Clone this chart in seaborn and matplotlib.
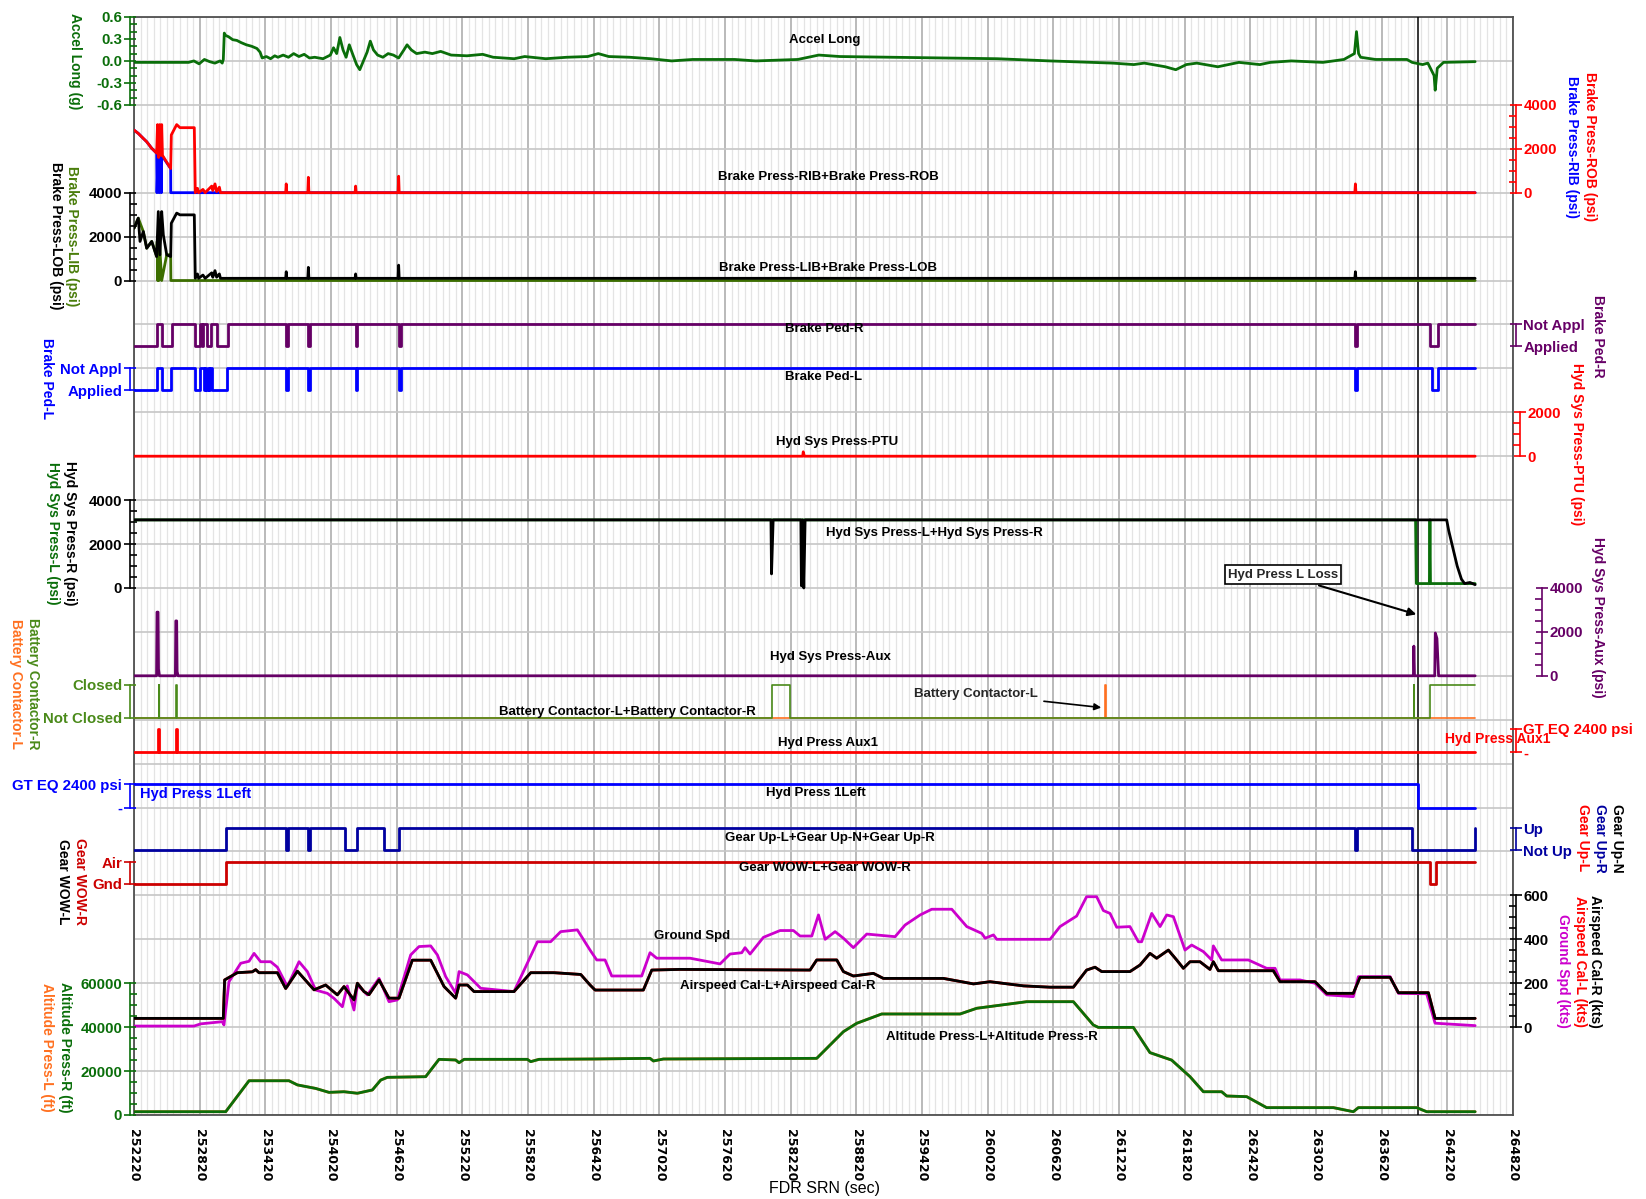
import numpy as np
import pandas as pd
import matplotlib.pyplot as plt
import seaborn as sns

sns.set_style("white")
plt.rcParams['font.family'] = ['Liberation Sans', 'DejaVu Sans']

# ---------------- data ----------------
accel_t = [252220, 252719, 252767, 252815, 252863, 252911, 252959, 253007, 253026, 253036, 253045, 253055,
           253084, 253122, 253160, 253199, 253247, 253295, 253343, 253372, 253391, 253429, 253468, 253506,
           253535, 253583, 253631, 253679, 253727, 253775, 253823, 253871, 253947, 254014, 254043, 254072,
           254101, 254130, 254158, 254187, 254216, 254254, 254283, 254322, 254350, 254379, 254408, 254446,
           254494, 254542, 254590, 254638, 254686, 254715, 254754, 254802, 254878, 254946, 255022, 255118,
           255262, 255406, 255502, 255694, 255790, 255982, 256174, 256366, 256462, 256558, 256749, 256941,
           257133, 257325, 257709, 257901, 258093, 258285, 258381, 258477, 258669, 259149, 259628, 260108,
           260588, 260972, 261163, 261355, 261451, 261643, 261739, 261835, 261931, 262123, 262315, 262507,
           262603, 262795, 263083, 263275, 263371, 263390, 263409, 263428, 263563, 263851, 263898, 263994,
           264042, 264099, 264109, 264128, 264185, 264474]
accel_g = [-0.02, -0.02, 0.0, -0.04, 0.02, -0.01, -0.03, 0.0, -0.03, 0.02, 0.38, 0.35,
           0.33, 0.29, 0.28, 0.25, 0.22, 0.2, 0.17, 0.12, 0.04, 0.06, 0.03, 0.07,
           0.05, 0.08, 0.05, 0.1, 0.06, 0.09, 0.04, 0.05, 0.03, 0.08, 0.18, 0.1,
           0.32, 0.15, 0.05, 0.22, 0.1, -0.05, -0.12, 0.02, 0.12, 0.27, 0.15, 0.08,
           0.05, 0.1, 0.08, 0.04, 0.15, 0.22, 0.15, 0.1, 0.12, 0.1, 0.13, 0.08,
           0.07, 0.09, 0.05, 0.03, 0.06, 0.03, 0.05, 0.06, 0.1, 0.06, 0.05, 0.03,
           0.0, 0.02, 0.02, 0.0, 0.01, 0.02, 0.05, 0.08, 0.06, 0.05, 0.04, 0.03,
           0.0, -0.02, -0.03, -0.05, -0.03, -0.08, -0.12, -0.05, -0.03, -0.08, -0.02, -0.05,
           -0.02, 0.0, -0.02, 0.02, 0.1, 0.4, 0.1, 0.05, 0.02, 0.02, -0.02, -0.05,
           -0.03, -0.2, -0.4, -0.1, -0.02, -0.01]

rob_t = [252220, 252259, 252305, 252336, 252382, 252427, 252435, 252445, 252455, 252465, 252473, 252480,
         252555, 252561, 252610, 252640, 252771, 252780, 252800, 252810, 252850, 252870, 252930, 252940,
         252960, 252975, 253000, 253010, 253606, 253611, 253616, 253808, 253813, 253818, 254240, 254245,
         254250, 254633, 254638, 254643, 263375, 263380, 263385, 264474]
rob_psi = [2850, 2700, 2470, 2320, 2020, 1800, 3100, 1600, 3100, 1700, 3100, 1700,
           1100, 2630, 3100, 2960, 2960, 0, 200, 0, 150, 0, 300, 100,
           400, 50, 250, 0, 0, 400, 0, 0, 700, 0, 0, 300,
           0, 0, 750, 0, 0, 400, 0, 0]
rib_t = [252220, 252259, 252305, 252336, 252382, 252427, 252430, 252440, 252450, 252460, 252470, 252473,
         252555, 252556, 264474]
rib_psi = [2850, 2700, 2470, 2320, 2020, 1800, 0, 1800, 0, 1700, 0, 1700,
           1100, 0, 0]

lob_t = [252220, 252259, 252275, 252305, 252336, 252382, 252427, 252442, 252457, 252473, 252488, 252519,
         252555, 252561, 252610, 252640, 252771, 252780, 252800, 252810, 252850, 252870, 252930, 252940,
         252960, 252975, 253000, 253010, 253606, 253611, 253616, 253808, 253813, 253818, 254240, 254245,
         254250, 254633, 254638, 254643, 263375, 263380, 263385, 264474]
lob_psi = [2380, 2840, 1780, 2230, 1470, 1780, 1090, 3140, 1170, 3140, 2080, 1170,
           1090, 2610, 3070, 2990, 2990, 105, 300, 100, 250, 100, 350, 150,
           450, 150, 300, 100, 100, 400, 100, 100, 600, 100, 100, 300,
           100, 100, 700, 100, 100, 400, 100, 100]
lib_t = [252220, 252259, 252305, 252336, 252382, 252427, 252432, 252437, 252442, 252447, 252452, 252473,
         252519, 252555, 252557, 264474]
lib_psi = [2380, 2840, 2230, 1470, 1780, 1090, 1780, 0, 1780, 0, 1780, 0,
           1170, 1180, 0, 0]

ped_r_t = [252220, 252430, 252476, 252567, 252777, 252823, 252841, 252850, 252887, 252924, 252978, 253079,
           253611, 253631, 253813, 253832, 254245, 254254, 254638, 254657, 263380, 263399, 264061, 264137,
           264474]
ped_r_state = [0, 1, 0, 1, 0, 1, 0, 1, 0, 1, 0, 1,
               0, 1, 0, 1, 0, 1, 0, 1, 0, 1, 0, 1,
               1]
ped_l_t = [252220, 252430, 252476, 252560, 252777, 252823, 252860, 252870, 252880, 252895, 252905, 252915,
           252935, 253070, 253611, 253631, 253813, 253832, 254245, 254254, 254638, 254657, 263380, 263399,
           264080, 264137, 264474]
ped_l_state = [0, 1, 0, 1, 0, 1, 0, 1, 0, 1, 0, 1,
               0, 1, 0, 1, 0, 1, 0, 1, 0, 1, 0, 1,
               0, 1, 1]

ptu_t = [252220, 258330, 258335, 258345, 264474]
ptu_psi = [0, 0, 200, 0, 0]

hyd_r_t = [252220, 258040, 258045, 258060, 258313, 258318, 258328, 258340, 258352, 264214, 264233, 264262,
           264310, 264349, 264378, 264426, 264474]
hyd_r_psi = [3100, 3100, 640, 3100, 3100, 100, 3100, 0, 3100, 3100, 2600, 2000,
             1000, 400, 200, 250, 150]
hyd_l_t = [252220, 263930, 263937, 264056, 264061, 264066, 264474]
hyd_l_psi = [3100, 3100, 200, 200, 3100, 200, 200]

aux_t = [252220, 252426, 252430, 252440, 252444, 252452, 252598, 252602, 252610, 252614, 252622, 263910,
         263914, 263920, 264105, 264110, 264125, 264140, 264474]
aux_psi = [0, 0, 2900, 2900, 300, 0, 0, 2500, 2500, 200, 0, 0,
           1350, 0, 0, 1950, 1700, 0, 0]

batt_r_t = [252220, 252445, 252452, 252606, 252612, 258054, 258218, 263912, 263920, 264061, 264474]
batt_r_state = [0, 1, 0, 1, 0, 1, 0, 1, 0, 1, 1]
batt_l_t = [252220, 261090, 261100, 264474]
batt_l_state = [0, 1, 0, 0]

aux1_t = [252220, 252436, 252446, 252600, 252610, 264474]
aux1_state = [0, 1, 0, 1, 0, 0]
left1_t = [252220, 263956, 264474]
left1_state = [1, 0, 0]

gear_up_t = [252220, 253064, 253611, 253631, 253813, 253832, 254149, 254254, 254504, 254638, 263380, 263399,
             263898, 264474]
gear_up_state = [0, 1, 0, 1, 0, 1, 0, 1, 0, 1, 0, 1, 0, 1]
wow_t = [252220, 253064, 264061, 264118, 264474]
wow_state = [0, 1, 0, 1, 1]

cas_t = [252220, 253036, 253048, 253164, 253301, 253332, 253362, 253530, 253606, 253713, 253865, 253971,
         254078, 254139, 254230, 254261, 254322, 254367, 254459, 254550, 254641, 254763, 254931, 255053,
         255159, 255190, 255266, 255327, 255692, 255845, 256058, 256302, 256387, 256433, 256874, 256951,
         257209, 258397, 258458, 258641, 258702, 258793, 258976, 259067, 259616, 259890, 260042, 260347,
         260590, 260803, 260924, 261001, 261062, 261320, 261412, 261503, 261564, 261671, 261747, 261808,
         261869, 261960, 262051, 262082, 262128, 262630, 262691, 263011, 263118, 263361, 263422, 263697,
         263773, 264047, 264108, 264474]
cas_kts = [40, 40, 215, 248, 252, 262, 248, 248, 176, 255, 170, 192,
           147, 185, 124, 200, 162, 148, 215, 132, 132, 305, 305, 185,
           132, 192, 192, 162, 162, 248, 248, 240, 192, 169, 169, 260,
           263, 260, 306, 306, 253, 233, 245, 222, 222, 197, 207, 188,
           182, 182, 260, 273, 253, 253, 283, 336, 314, 351, 306, 268,
           298, 298, 263, 298, 257, 257, 207, 207, 154, 154, 227, 227,
           157, 157, 40, 40]

gspd_t = [252220, 252768, 252829, 253027, 253042, 253088, 253195, 253271, 253317, 253377, 253469, 253530,
          253621, 253728, 253804, 253880, 253987, 254048, 254124, 254169, 254230, 254261, 254352, 254459,
          254550, 254626, 254748, 254824, 254931, 254992, 255068, 255159, 255190, 255266, 255388, 255692,
          255906, 256027, 256119, 256271, 256387, 256448, 256524, 256585, 256859, 256935, 256996, 257301,
          257575, 257666, 257773, 257803, 257849, 257971, 258123, 258245, 258306, 258413, 258474, 258535,
          258626, 258702, 258793, 258915, 259174, 259265, 259403, 259509, 259692, 259829, 259966, 259997,
          260073, 260103, 260590, 260681, 260833, 260924, 261016, 261077, 261138, 261199, 261320, 261397,
          261427, 261519, 261595, 261656, 261717, 261823, 261884, 261991, 262067, 262082, 262158, 262402,
          262569, 262646, 262691, 262874, 263011, 263118, 263361, 263407, 263697, 263773, 264031, 264108,
          264474]
gspd_kts = [5, 5, 15, 25, 10, 207, 291, 300, 336, 298, 298, 273,
            185, 298, 253, 169, 154, 131, 93, 188, 78, 192, 147, 222,
            116, 124, 329, 367, 370, 329, 230, 155, 253, 238, 177, 162,
            389, 389, 435, 443, 351, 306, 306, 233, 233, 339, 314, 314,
            288, 333, 339, 362, 333, 409, 440, 440, 415, 415, 511, 400,
            435, 405, 362, 424, 412, 465, 511, 537, 537, 458, 427, 405,
            420, 400, 400, 458, 506, 594, 594, 531, 518, 455, 458, 389,
            389, 518, 458, 511, 503, 351, 374, 344, 306, 370, 306, 306,
            268, 268, 215, 215, 200, 147, 139, 230, 230, 154, 152, 18,
            7]

alt_t = [252220, 253058, 253271, 253636, 253713, 253880, 254002, 254139, 254261, 254398, 254474, 254535,
         254885, 255007, 255159, 255190, 255236, 255814, 255845, 255921, 256424, 256935, 256966, 257057,
         258458, 258702, 258823, 259052, 259768, 259920, 260377, 260803, 260985, 261031, 261351, 261503,
         261701, 261869, 261991, 262158, 262204, 262387, 262569, 263179, 263361, 263407, 263940, 264031,
         264474]
alt_ft = [1500, 1500, 15600, 15600, 13700, 12100, 10300, 10600, 9900, 11400, 15900, 17150,
          17450, 25350, 25050, 23800, 25350, 25350, 24300, 25350, 25500, 25800, 24600, 25500,
          25800, 37950, 41750, 46000, 46000, 48600, 51600, 51600, 41000, 39900, 39900, 28400,
          25000, 17450, 10600, 10600, 8650, 8350, 3350, 3350, 1500, 3350, 3350, 1500,
          1500]

# ---------------- layout ----------------
W, H = 1646, 1199
T0, T1 = 252220, 264820
NB = 25
fig = plt.figure(figsize=(W / 100, H / 100), dpi=100)
L, R, TOP, BOT = 134, 1513, 17, 1115
ax = fig.add_axes([L / W, 1 - BOT / H, (R - L) / W, (BOT - TOP) / H])

GREEN = '#0a6e0a'
OLIVE = '#4a8a1a'
RED = '#ff0000'
BLUE = '#0000ff'
PURPLE = '#660066'
NAVY = '#0000a0'
DRED = '#cc0000'
MAG = '#cc00cc'
ORANGE = '#ff7020'


def band(side, v0, v1, u0, u1, color, ticks, labels=None, minor=None, off=3.0):
    a = ax.twinx()
    k = (v1 - v0) / (u1 - u0)
    a.set_ylim(v0 - u0 * k, v0 + (NB - u0) * k)
    for s in a.spines.values():
        s.set_visible(False)
    sp = a.spines[side]
    sp.set_visible(True)
    sp.set_bounds(min(v0, v1), max(v0, v1))
    sp.set_position(('outward', off))
    sp.set_color(color)
    sp.set_linewidth(1.2)
    if side == 'left':
        a.yaxis.set_ticks_position('left')
        a.tick_params(axis='y', labelleft=True, labelright=False)
    else:
        a.yaxis.set_ticks_position('right')
    a.set_yticks(ticks)
    if labels is not None:
        a.set_yticklabels(labels)
    if minor is not None:
        a.set_yticks(minor, minor=True)
    a.tick_params(axis='y', which='major', colors=color, direction='inout', length=9, width=1.2,
                  labelsize=10.8, pad=1)
    a.tick_params(axis='y', which='minor', colors=color, direction='in', length=5, width=1.2)
    for lab in a.get_yticklabels():
        lab.set_fontweight('bold')
        lab.set_color(color)
    return a


def trace(a, t, v, color, lw=2.0, steps=False):
    sns.lineplot(x=t, y=v, ax=a, color=color, lw=lw, estimator=None, sort=False,
                 drawstyle='steps-post' if steps else 'default')
    a.set_xlabel('')
    a.set_ylabel('')


# scales
a_acc = band('left', -0.6, 0.6, 23, 25, GREEN, [-0.6, -0.3, 0.0, 0.3, 0.6],
             ['-0.6', '-0.3', '0.0', '0.3', '0.6'], minor=np.arange(-0.6, 0.61, 0.1))
a_brr = band('right', 0, 4000, 21, 23, RED, [0, 2000, 4000], minor=np.arange(0, 4001, 500), off=2)
a_brl = band('left', 0, 4000, 19, 21, 'black', [0, 2000, 4000], minor=np.arange(0, 4001, 500))
a_pdr = band('right', 0, 1, 17.5, 18.0, PURPLE, [0, 1], ['Applied', 'Not Appl'], off=2)
a_pdl = band('left', 0, 1, 16.5, 17.0, BLUE, [0, 1], ['Applied', 'Not Appl'])
a_ptu = band('right', 0, 2000, 15, 16, RED, [0, 2000], minor=np.arange(0, 2001, 500), off=5)
a_hyd = band('left', 0, 4000, 12, 14, 'black', [0, 2000, 4000], minor=np.arange(0, 4001, 500))
a_aux = band('right', 0, 4000, 10, 12, PURPLE, [0, 2000, 4000], minor=np.arange(0, 4001, 500), off=21)
a_bat = band('left', 0, 1, 9.05, 9.8, OLIVE, [0, 1], ['Not Closed', 'Closed'])
a_ax1 = band('right', 0, 1, 8.27, 8.8, RED, [0, 1], ['-', 'GT EQ 2400 psi'], off=2)
a_l1 = band('left', 0, 1, 7.0, 7.53, BLUE, [0, 1], ['-', 'GT EQ 2400 psi'])
a_gup = band('right', 0, 1, 6.03, 6.53, NAVY, [0, 1], ['Not Up', 'Up'], off=2)
a_wow = band('left', 0, 1, 5.27, 5.76, DRED, [0, 1], ['Gnd', 'Air'])
a_spd = band('right', 0, 600, 2, 5, 'black', [0, 200, 400, 600], minor=np.arange(0, 601, 50), off=2)
a_alt = band('left', 0, 60000, 0, 3, GREEN, [0, 20000, 40000, 60000], minor=np.arange(0, 60001, 5000))

# traces
trace(a_acc, accel_t, accel_g, GREEN)
trace(a_brr, rib_t, rib_psi, BLUE)
trace(a_brr, rob_t, rob_psi, RED)
trace(a_brl, lib_t, lib_psi, '#3c6e00')
trace(a_brl, lob_t, lob_psi, 'black')
trace(a_pdr, ped_r_t, ped_r_state, PURPLE, steps=True)
trace(a_pdl, ped_l_t, ped_l_state, BLUE, steps=True)
trace(a_ptu, ptu_t, ptu_psi, RED)
trace(a_hyd, hyd_l_t, hyd_l_psi, GREEN)
trace(a_hyd, hyd_r_t, hyd_r_psi, 'black')
trace(a_aux, aux_t, aux_psi, PURPLE)
trace(a_bat, batt_l_t, batt_l_state, ORANGE, lw=1.2, steps=True)
trace(a_bat, batt_r_t, batt_r_state, OLIVE, lw=1.2, steps=True)
trace(a_ax1, aux1_t, aux1_state, RED, steps=True)
trace(a_l1, left1_t, left1_state, BLUE, steps=True)
trace(a_gup, gear_up_t, gear_up_state, NAVY, steps=True)
trace(a_wow, wow_t, wow_state, DRED, steps=True)
trace(a_spd, gspd_t, gspd_kts, MAG)
trace(a_spd, cas_t, cas_kts, RED)
trace(a_spd, cas_t, cas_kts, 'black')
trace(a_alt, alt_t, alt_ft, ORANGE)
trace(a_alt, alt_t, alt_ft, GREEN)

# main frame, grid, x axis
ax.set_xlim(T0, T1)
ax.set_ylim(0, NB)
ax.set_yticks(np.arange(0, NB + 1))
ax.tick_params(axis='y', left=False, right=False, labelleft=False)
ax.set_xticks(np.arange(T0, T1 + 1, 600))
ax.set_xticks(np.arange(T0, T1 + 1, 60), minor=True)
ax.grid(True, axis='y', which='major', color='#c6c6c6', lw=1.2)
ax.grid(True, axis='x', which='major', color='#b4b4b4', lw=1.3)
ax.grid(True, axis='x', which='minor', color='#e4e4e4', lw=0.9)
ax.tick_params(axis='x', which='major', direction='out', length=7, width=1, colors='black',
               labelrotation=-90, labelsize=9, pad=3)
ax.tick_params(axis='x', which='minor', direction='out', length=5, width=1, colors='black')
for lab in ax.get_xticklabels():
    lab.set_fontweight('bold')
    lab.set_family('DejaVu Sans')
for s in ax.spines.values():
    s.set_color('#505050')
    s.set_linewidth(1.3)
ax.axvline(263950, color='black', lw=1.1, zorder=5)
for a in fig.axes:
    a.set_xlim(T0, T1)


def ftext(x, y, s, color='black', size=9.5, rot=0, **kw):
    fig.text(x / W, 1 - y / H, s, color=color, fontsize=size, fontweight='bold', rotation=rot,
             ha='center', va='center', **kw)


# axis titles (rotated)
ftext(75, 61, 'Accel Long (g)', GREEN, 10, -90)
ftext(72, 236, 'Brake Press-LIB (psi)', '#4a7d0b', 10, -90)
ftext(56, 236, 'Brake Press-LOB (psi)', 'black', 10, -90)
ftext(47, 378, 'Brake Ped-L', BLUE, 10, -90)
ftext(70, 533, 'Hyd Sys Press-R (psi)', 'black', 10, -90)
ftext(53, 533, 'Hyd Sys Press-L (psi)', GREEN, 10, -90)
ftext(33, 684, 'Battery Contactor-R', OLIVE, 10, -90)
ftext(16, 684, 'Battery Contactor-L', ORANGE, 10, -90)
ftext(80, 882, 'Gear WOW-R', DRED, 10, -90)
ftext(63, 882, 'Gear WOW-L', 'black', 10, -90)
ftext(65, 1047, 'Altitude Press-R (ft)', GREEN, 10, -90)
ftext(47, 1047, 'Altitude Press-L (ft)', ORANGE, 10, -90)

ftext(1590, 147, 'Brake Press-ROB (psi)', RED, 10, -90)
ftext(1572, 147, 'Brake Press-RIB (psi)', BLUE, 10, -90)
ftext(1598, 336, 'Brake Ped-R', PURPLE, 10, -90)
ftext(1577, 444, 'Hyd Sys Press-PTU (psi)', RED, 10, -90)
ftext(1598, 617, 'Hyd Sys Press-Aux (psi)', PURPLE, 10, -90)
ftext(1617, 838, 'Gear Up-N', 'black', 10, -90)
ftext(1600, 838, 'Gear Up-R', NAVY, 10, -90)
ftext(1583, 838, 'Gear Up-L', RED, 10, -90)
ftext(1595, 961, 'Airspeed Cal-R (kts)', 'black', 10, -90)
ftext(1580, 961, 'Airspeed Cal-L (kts)', RED, 10, -90)
ftext(1563, 971, 'Ground Spd (kts)', MAG, 10, -90)

# trace captions
ftext(825, 40, 'Accel Long')
ftext(828, 177, 'Brake Press-RIB+Brake Press-ROB')
ftext(828, 268, 'Brake Press-LIB+Brake Press-LOB')
ftext(824, 329, 'Brake Ped-R')
ftext(824, 377, 'Brake Ped-L')
ftext(837, 442, 'Hyd Sys Press-PTU')
ftext(934, 533, 'Hyd Sys Press-L+Hyd Sys Press-R')
ftext(830, 657, 'Hyd Sys Press-Aux')
ftext(627, 712, 'Battery Contactor-L+Battery Contactor-R')
ftext(828, 743, 'Hyd Press Aux1')
ftext(1498, 739, 'Hyd Press Aux1', RED, 10)
ftext(816, 793, 'Hyd Press 1Left')
ftext(196, 794, 'Hyd Press 1Left', BLUE, 10.5)
ftext(830, 838, 'Gear Up-L+Gear Up-N+Gear Up-R')
ftext(825, 868, 'Gear WOW-L+Gear WOW-R')
ftext(692, 936, 'Ground Spd')
ftext(778, 986, 'Airspeed Cal-L+Airspeed Cal-R')
ftext(992, 1037, 'Altitude Press-L+Altitude Press-R')

# annotations
ax.annotate('Hyd Press L Loss', xy=(263961, 11.38), xytext=(262718, 12.3),
            fontsize=9.5, fontweight='bold', ha='center', va='center',
            bbox=dict(boxstyle='square,pad=0.25', fc='white', ec='black', lw=1.2),
            arrowprops=dict(arrowstyle='-|>', color='black', lw=1.5, mutation_scale=12))
ax.annotate('Battery Contactor-L', xy=(261083, 9.27), xytext=(259913, 9.59),
            fontsize=9.5, fontweight='bold', ha='center', va='center',
            arrowprops=dict(arrowstyle='-|>', color='black', lw=1.2, mutation_scale=10))

fig.text(824 / W, 1 - 1188 / H, 'FDR SRN (sec)', fontsize=11.5, color='black',
         family=['Liberation Sans Narrow', 'Liberation Sans'], ha='center', va='center')

fig.savefig('out.png', dpi=100)
